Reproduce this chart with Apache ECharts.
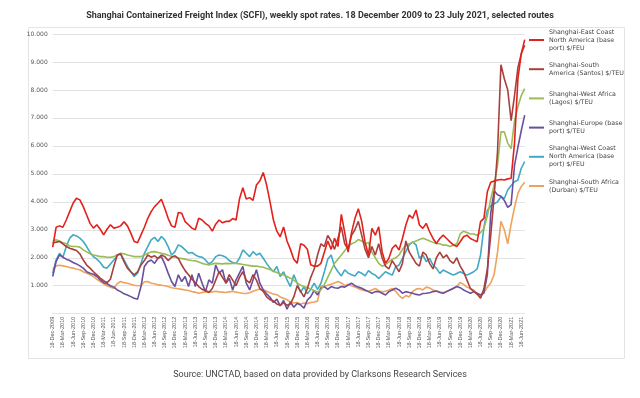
<!DOCTYPE html>
<html>
<head>
<meta charset="utf-8">
<script src="https://cdn.jsdelivr.net/npm/echarts@6/dist/echarts.min.js"></script>
<style>
html, body { margin: 0; padding: 0; background: #fff; }
#chart { width: 640px; height: 398px; }
</style>
</head>
<body>
<div id="chart"></div>
<script>
// monthly readings, $ thousands, Dec 2009 .. Jul 2021
var eastCoastNA = [
2.38,3.09,3.14,3.09,3.35,3.65,3.95,4.13,4.07,3.83,
3.53,3.23,3.06,3.18,3.02,2.82,3.02,3.18,3.06,3.09,
3.14,3.29,3.14,2.88,2.58,2.54,2.82,3.09,3.41,3.65,
3.83,3.95,4.09,3.77,3.41,3.14,3.09,3.62,3.59,3.29,
3.18,3.06,3.00,3.41,3.35,3.23,3.14,2.95,3.20,3.35,
3.25,3.30,3.30,3.40,3.35,4.10,4.50,4.10,4.15,4.05,
4.60,4.75,5.05,4.60,4.00,3.35,2.95,2.75,3.10,2.60,
2.30,1.95,1.80,2.50,2.45,2.30,1.75,1.70,1.70,1.80,
2.20,2.60,2.30,2.70,2.40,3.55,2.90,2.20,2.90,3.40,
3.75,3.30,2.55,2.10,3.05,2.81,3.11,2.22,1.80,1.98,
2.34,2.46,2.28,2.69,3.17,3.53,3.41,3.71,3.17,3.05,
3.23,2.93,2.69,2.51,2.69,2.81,2.69,2.57,2.46,2.40,
2.57,2.75,2.81,2.69,2.63,2.57,3.29,3.41,4.36,4.70,
4.74,4.78,4.80,4.78,4.82,4.84,6.10,8.40,9.30,9.80
];
var southAmerica = [
2.52,2.56,2.58,2.50,2.40,2.34,2.30,2.26,2.14,1.92,
1.74,1.63,1.50,1.39,1.27,1.18,1.11,1.23,1.69,2.10,
2.14,1.86,1.63,1.50,1.39,1.50,1.74,1.90,2.10,2.02,
2.07,1.98,2.10,2.04,1.90,2.02,2.07,1.98,1.74,1.54,
1.39,1.23,1.11,0.97,0.87,0.83,0.76,0.90,1.20,1.50,
1.30,1.10,1.40,1.20,1.00,1.30,1.50,1.20,1.10,1.40,
1.20,0.90,0.80,0.60,0.50,0.45,0.35,0.30,0.40,0.30,
0.35,0.60,1.00,0.80,0.60,0.90,1.30,1.60,2.10,2.50,
2.40,2.80,2.60,2.30,2.70,3.10,2.50,2.30,2.80,3.00,
3.30,2.80,2.30,2.00,2.40,2.10,2.50,2.00,1.70,1.60,
1.90,1.70,1.50,1.80,2.60,2.20,2.00,1.80,1.70,2.20,
2.10,1.80,1.60,2.00,2.20,2.00,2.10,1.90,1.80,2.00,
1.70,1.50,1.20,0.90,0.80,0.70,0.55,0.90,1.60,2.80,
4.20,5.80,8.90,8.40,8.00,6.90,7.80,8.80,9.30,9.60
];
var westAfrica = [
2.61,2.64,2.60,2.54,2.50,2.42,2.40,2.40,2.38,2.28,
2.21,2.14,2.10,2.07,2.04,2.04,2.02,2.02,2.04,2.10,
2.16,2.14,2.10,2.07,2.04,2.04,2.04,2.10,2.16,2.21,
2.22,2.19,2.16,2.13,2.09,2.05,2.03,1.99,1.97,1.95,
1.92,1.90,1.89,1.85,1.80,1.77,1.74,1.78,1.80,1.79,
1.78,1.80,1.79,1.80,1.80,1.78,1.76,1.74,1.72,1.70,
1.70,1.68,1.66,1.62,1.58,1.52,1.47,1.42,1.38,1.33,
1.27,1.20,1.10,1.02,0.97,0.93,0.88,0.82,0.78,0.85,
1.05,1.30,1.55,1.80,1.95,2.10,2.25,2.40,2.50,2.55,
2.65,2.60,2.50,2.55,2.20,2.00,1.80,1.70,1.75,1.85,
1.95,2.00,2.10,2.30,2.45,2.50,2.55,2.60,2.65,2.70,
2.65,2.60,2.55,2.50,2.50,2.45,2.45,2.40,2.45,2.50,
2.85,2.95,2.90,2.85,2.85,2.80,2.90,3.05,3.50,4.10,
4.60,5.30,6.50,6.50,6.10,5.90,6.90,7.40,7.80,8.05
];
var europe = [
1.33,1.86,2.10,2.02,1.95,1.90,1.83,1.78,1.71,1.63,
1.50,1.45,1.41,1.33,1.21,1.11,1.07,1.00,0.95,0.85,
0.79,0.71,0.67,0.61,0.55,0.52,0.97,1.69,1.86,1.92,
1.80,1.98,2.04,1.78,1.45,1.15,0.97,1.39,1.15,1.33,
0.97,1.39,0.97,1.45,1.09,0.79,1.21,1.09,1.74,1.45,
1.57,1.09,1.27,0.85,1.21,1.45,1.69,1.09,0.85,1.21,
1.57,1.09,0.85,0.71,0.59,0.40,0.52,0.28,0.47,0.16,
0.42,0.23,0.37,0.31,0.20,0.49,0.61,0.83,0.67,0.91,
0.97,0.87,0.97,0.93,0.91,0.97,0.95,1.02,1.09,1.00,
0.95,0.91,0.85,0.79,0.73,0.79,0.79,0.73,0.67,0.79,
0.85,0.91,0.85,0.73,0.79,0.76,0.73,0.69,0.67,0.72,
0.73,0.75,0.79,0.81,0.76,0.73,0.79,0.85,0.91,0.97,
0.93,0.85,0.79,0.73,0.79,0.73,0.67,0.75,1.40,3.60,
4.40,4.25,4.20,4.05,3.80,3.90,5.30,5.95,6.55,7.10
];
var westCoastNA = [
1.45,1.92,2.16,2.02,2.40,2.70,2.82,2.78,2.70,2.58,
2.40,2.19,2.04,1.95,1.83,1.66,1.63,1.78,1.92,2.07,
2.14,1.92,1.69,1.50,1.33,1.45,1.80,2.16,2.40,2.64,
2.73,2.58,2.76,2.64,2.40,2.10,2.22,2.46,2.40,2.28,
2.16,2.19,2.10,2.04,2.02,1.92,1.78,1.86,2.04,2.10,
2.07,2.02,1.90,1.83,1.80,1.98,2.28,2.16,2.04,2.22,
2.10,2.16,1.98,1.80,1.63,1.50,1.69,1.33,1.50,1.21,
0.97,1.39,1.09,0.76,0.97,0.71,0.87,1.09,0.87,1.09,
1.50,1.95,2.10,1.69,1.50,1.35,1.57,1.45,1.39,1.35,
1.50,1.45,1.35,1.54,1.44,1.38,1.26,1.38,1.50,1.44,
1.38,1.68,1.74,1.98,2.22,2.46,2.57,2.46,1.98,2.10,
1.86,1.98,1.74,1.62,1.44,1.56,1.50,1.44,1.38,1.44,
1.50,1.44,1.38,1.44,1.50,1.60,2.10,3.10,3.70,3.85,
3.93,4.00,4.18,4.12,4.42,4.58,4.72,4.78,5.20,5.44
];
var southAfrica = [
1.59,1.71,1.73,1.71,1.69,1.65,1.63,1.59,1.57,1.50,
1.45,1.39,1.33,1.23,1.15,1.07,1.00,0.95,0.91,1.07,
1.15,1.11,1.09,1.05,1.02,1.00,1.01,1.14,1.15,1.09,
1.07,1.03,1.02,1.00,0.97,0.93,0.91,0.89,0.87,0.85,
0.83,0.79,0.77,0.73,0.76,0.78,0.79,0.78,0.80,0.78,
0.77,0.76,0.78,0.80,0.77,0.75,0.73,0.72,0.75,0.80,
0.85,0.88,0.86,0.80,0.75,0.70,0.68,0.60,0.55,0.50,
0.42,0.38,0.40,0.35,0.38,0.36,0.40,0.42,0.45,1.00,
0.98,1.02,1.05,1.10,1.15,1.10,1.00,1.05,1.00,0.95,
0.90,0.85,0.82,0.80,0.85,0.90,0.82,0.78,0.80,0.85,
0.90,0.80,0.65,0.55,0.65,0.60,0.80,0.88,0.90,0.85,
0.95,0.92,0.85,0.80,0.78,0.75,0.80,0.85,0.90,0.97,
1.12,1.05,0.95,0.90,0.85,0.70,0.60,0.75,0.95,1.10,
1.40,2.20,3.30,3.00,2.50,3.20,3.80,4.30,4.55,4.70
];

var routeNames = [
  'Shanghai-East Coast\nNorth America (base\nport) $/FEU',
  'Shanghai-South\nAmerica (Santos) $/TEU',
  'Shanghai-West Africa\n(Lagos) $/TEU',
  'Shanghai-Europe (base\nport) $/TEU',
  'Shanghai-West Coast\nNorth America (base\nport) $/FEU',
  'Shanghai-South Africa\n(Durban) $/TEU'
];
var routeColors = ['#e3211c', '#a9403d', '#9bbb59', '#6a4f9f', '#40a9c4', '#eea35c'];
var routeData = [eastCoastNA, southAmerica, westAfrica, europe, westCoastNA, southAfrica];

// x categories: the 18th of each month, Dec 2009 .. Jul 2021
var monthNames = ['Jan','Feb','Mar','Apr','May','Jun','Jul','Aug','Sep','Oct','Nov','Dec'];
var months = [];
for (var i = 0; i < 140; i++) {
  var k = 11 + i;
  months.push('18-' + monthNames[k % 12] + '-' + (2009 + Math.floor(k / 12)));
}

var Echarts = echarts.init(document.getElementById('chart'));

var series = [];
for (var s = routeData.length - 1; s >= 0; s--) {
  series.push({
    name: routeNames[s],
    type: 'line',
    data: routeData[s],
    showSymbol: false,
    symbol: 'none',
    lineStyle: { width: 1.6, color: routeColors[s] },
    itemStyle: { color: routeColors[s] },
    z: 10 - s
  });
}

// legend: icon sits at the first text line, entries on a fixed pitch
var LH = 8;
var SLOT = 5 * LH;          // every entry box is the same height
function legendPadding(name) {
  var n = name.split('\n').length;
  var top = (SLOT - LH) / 2;
  return [top, 0, SLOT - top - n * LH, 0];
}

Echarts.setOption({
  animation: false,
  textStyle: { fontFamily: 'DejaVu Sans' },
  title: {
    text: 'Shanghai Containerized Freight Index (SCFI), weekly spot rates. 18 December 2009 to 23 July 2021, selected routes',
    left: 'center',
    top: 6,
    textStyle: { fontSize: 9, fontWeight: 'bold', color: '#333', fontFamily: 'Liberation Sans Narrow, Roboto' }
  },
  graphic: [
    {
      type: 'rect',
      shape: { x: 28.5, y: 27.5, width: 596, height: 331 },
      style: { fill: 'none', stroke: '#e4e4e4', lineWidth: 1 },
      silent: true
    },
    {
      type: 'text',
      left: 'center',
      top: 370,
      style: {
        text: 'Source: UNCTAD, based on data provided by Clarksons Research Services',
        fill: '#444',
        fontSize: 9,
        fontFamily: 'Roboto'
      }
    }
  ],
  legend: {
    orient: 'vertical',
    left: 529,
    top: 40 - SLOT / 2,
    itemWidth: 15,
    itemHeight: 2,
    itemGap: 29.2 - SLOT,
    icon: 'rect',
    padding: 0,
    textStyle: { fontSize: 6.3, color: '#444', lineHeight: LH, fontFamily: 'DejaVu Sans' },
    data: routeNames.map(function (n) {
      return { name: n, textStyle: { padding: legendPadding(n) } };
    })
  },
  grid: { left: 52.7, top: 34, width: 472, height: 279.7, containLabel: false },
  xAxis: {
    type: 'category',
    data: months,
    boundaryGap: false,
    axisLine: { show: true, lineStyle: { color: '#e6e6e6' } },
    axisTick: { show: false },
    axisLabel: {
      interval: 2,
      rotate: 90,
      fontSize: 5.5,
      color: '#555',
      margin: 3,
      fontFamily: 'Liberation Sans'
    },
    splitLine: { show: false }
  },
  yAxis: {
    type: 'value',
    min: 0,
    max: 10,
    interval: 1,
    axisLine: { show: false },
    axisTick: { show: false },
    axisLabel: {
      fontSize: 6,
      color: '#555',
      margin: 5,
      formatter: function (v) { return v === 0 ? '' : v.toFixed(3); }
    },
    splitLine: { lineStyle: { color: '#e2e2e2', width: 1 } }
  },
  series: series
});
</script>
</body>
</html>
